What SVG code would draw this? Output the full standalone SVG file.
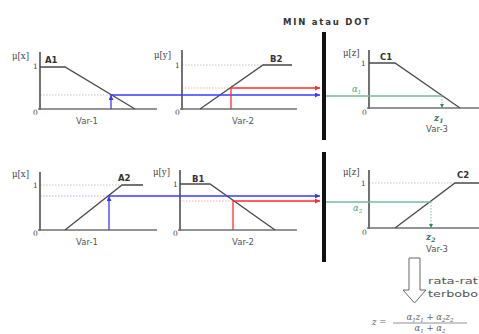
<svg xmlns="http://www.w3.org/2000/svg" width="479" height="334" viewBox="0 0 479 334">
<defs>
<style>
.ax{stroke:#5a5a5a;stroke-width:1.7;fill:none}
.xa{stroke:#707070;stroke-width:1.4;fill:none}
.mf{stroke:#4a4a4a;stroke-width:1.3;fill:none}
.dot{stroke:#b5b5b5;stroke-width:0.8;stroke-dasharray:1.5 1.5;fill:none}
.bdot{stroke:#9a9aff;stroke-width:0.8;stroke-dasharray:1.5 1.5;fill:none}
.rdot{stroke:#ff9a9a;stroke-width:0.8;stroke-dasharray:1.5 1.5;fill:none}
.gdot{stroke:#6aae88;stroke-width:0.8;stroke-dasharray:1.5 1.5;fill:none}
.blue{stroke:#3a3aff;stroke-width:1.3;fill:none}
.red{stroke:#ff2a2a;stroke-width:1.3;fill:none}
.grn{stroke:#7ab898;stroke-width:1.4;fill:none}
.bar{stroke:#111;stroke-width:4;fill:none}
.lbl{font-family:"DejaVu Sans",sans-serif;font-size:8.5px;fill:#555}
.mu{font-family:"DejaVu Serif",serif;font-size:8.5px;fill:#444}
.num{font-family:"DejaVu Serif",serif;font-size:7.5px;fill:#444}
.nm{font-family:"DejaVu Sans",sans-serif;font-weight:bold;font-size:8.5px;fill:#333}
.al{font-family:"DejaVu Serif",serif;font-style:italic;font-size:8.5px;fill:#5aa07a}
.zl{font-family:"DejaVu Serif",serif;font-style:italic;font-weight:bold;font-size:9px;fill:#2a6a5a}
.fm{font-family:"DejaVu Serif",serif;font-style:italic;font-size:8.5px;fill:#666}
</style>
<marker id="mb" viewBox="0 0 10 10" refX="10" refY="5" markerWidth="6" markerHeight="5" markerUnits="userSpaceOnUse" orient="auto"><path d="M0,0 L10,5 L0,10 z" fill="#3a3aff"/></marker>
<marker id="mr" viewBox="0 0 10 10" refX="10" refY="5" markerWidth="6" markerHeight="5" markerUnits="userSpaceOnUse" orient="auto"><path d="M0,0 L10,5 L0,10 z" fill="#ff2a2a"/></marker>
<marker id="mg" viewBox="0 0 10 10" refX="10" refY="5" markerWidth="5" markerHeight="4" markerUnits="userSpaceOnUse" orient="auto"><path d="M0,0 L10,5 L0,10 z" fill="#3a8a6a"/></marker>
</defs>
<rect width="479" height="334" fill="#fff"/>

<text x="326" y="25" class="nm" font-size="9.5px" text-anchor="middle" textLength="86" lengthAdjust="spacing">MIN atau DOT</text>

<!-- Top row -->
<g id="panel-a1">
<polyline class="dot" points="40,95 111,95"/>
<line class="ax" x1="40" y1="52" x2="40" y2="110"/>
<line class="xa" x1="38" y1="109" x2="157" y2="109"/>
<polyline class="mf" points="40,67 65,67 135,109"/>
<text x="12" y="59" class="mu">μ[x]</text>
<text x="33" y="69" class="num">1</text>
<text x="33" y="115" class="num">0</text>
<text x="45" y="63" class="nm">A1</text>
<text x="87" y="124" class="lbl" text-anchor="middle">Var-1</text>
</g>

<g id="panel-b2">
<polyline class="dot" points="182,65 292,65"/>
<polyline class="rdot" points="182,88 231,88"/>
<line class="ax" x1="182" y1="50" x2="182" y2="110"/>
<line class="xa" x1="180" y1="109" x2="297" y2="109"/>
<polyline class="mf" points="200,109 263,65 292,65"/>
<text x="154" y="58" class="mu">μ[y]</text>
<text x="175" y="68" class="num">1</text>
<text x="175" y="115" class="num">0</text>
<text x="270" y="62" class="nm">B2</text>
<text x="243" y="124" class="lbl" text-anchor="middle">Var-2</text>
</g>

<g id="panel-c1">
<line class="ax" x1="369" y1="50" x2="369" y2="109"/>
<line class="xa" x1="367" y1="108" x2="479" y2="108"/>
<polyline class="mf" points="369,63 395,63 460,108"/>
<text x="343" y="56" class="mu">μ[z]</text>
<text x="361" y="66" class="num">1</text>
<text x="362" y="115" class="num">0</text>
<text x="380" y="60" class="nm">C1</text>
<text x="352" y="92" class="al">α<tspan font-size="5.5px" dy="1.5">1</tspan></text>
<text x="434" y="121" class="zl">z<tspan font-size="6px" dy="1.5">1</tspan></text>
<text x="437" y="132" class="lbl" text-anchor="middle">Var-3</text>
</g>

<!-- Bottom row -->
<g id="panel-a2">
<polyline class="dot" points="40,185 143,185"/>
<polyline class="bdot" points="40,196 110,196"/>
<line class="ax" x1="40" y1="172" x2="40" y2="231"/>
<line class="xa" x1="38" y1="230" x2="157" y2="230"/>
<polyline class="mf" points="65,230 122,185 143,185"/>
<text x="12" y="177" class="mu">μ[x]</text>
<text x="33" y="188" class="num">1</text>
<text x="33" y="236" class="num">0</text>
<text x="118" y="181" class="nm">A2</text>
<text x="87" y="245" class="lbl" text-anchor="middle">Var-1</text>
</g>

<g id="panel-b1">
<polyline class="rdot" points="180,201 233,201"/>
<line class="ax" x1="180" y1="170" x2="180" y2="231"/>
<line class="xa" x1="178" y1="230" x2="297" y2="230"/>
<polyline class="mf" points="180,184 210,184 275,230"/>
<text x="153" y="175" class="mu">μ[y]</text>
<text x="173" y="187" class="num">1</text>
<text x="173" y="236" class="num">0</text>
<text x="192" y="182" class="nm">B1</text>
<text x="243" y="245" class="lbl" text-anchor="middle">Var-2</text>
</g>

<g id="panel-c2">
<polyline class="dot" points="369,183 455,183"/>
<line class="ax" x1="369" y1="170" x2="369" y2="229"/>
<line class="xa" x1="367" y1="228" x2="479" y2="228"/>
<polyline class="mf" points="395,228 455,183 479,183"/>
<text x="343" y="175" class="mu">μ[z]</text>
<text x="361" y="186" class="num">1</text>
<text x="362" y="235" class="num">0</text>
<text x="457" y="178" class="nm">C2</text>
<text x="353" y="211" class="al">α<tspan font-size="5.5px" dy="1.5">2</tspan></text>
<text x="426" y="240" class="zl">z<tspan font-size="6px" dy="1.5">2</tspan></text>
<text x="437" y="252" class="lbl" text-anchor="middle">Var-3</text>
</g>

<g id="min-bars">
<line class="bar" x1="324" y1="32" x2="324" y2="140"/>
<line class="bar" x1="324" y1="152" x2="324" y2="262"/>
</g>

<g id="connectors">
<line class="blue" x1="111" y1="109" x2="111" y2="95" marker-end="url(#mb)"/>
<line class="blue" x1="111" y1="95" x2="320" y2="95" marker-end="url(#mb)"/>
<line class="red" x1="231" y1="109" x2="231" y2="88"/>
<line class="red" x1="231" y1="88" x2="320" y2="88" marker-end="url(#mr)"/>
<line class="grn" x1="326" y1="96" x2="442" y2="96"/>
<line class="gdot" x1="442" y1="96" x2="442" y2="108" marker-end="url(#mg)"/>
<line class="blue" x1="109" y1="230" x2="109" y2="196" marker-end="url(#mb)"/>
<line class="blue" x1="109" y1="196" x2="320" y2="196" marker-end="url(#mb)"/>
<line class="red" x1="233" y1="230" x2="233" y2="201"/>
<line class="red" x1="233" y1="201" x2="320" y2="201" marker-end="url(#mr)"/>
<line class="grn" x1="326" y1="202" x2="431" y2="202"/>
<line class="gdot" x1="431" y1="202" x2="431" y2="228" marker-end="url(#mg)"/>
</g>

<g id="defuzz">
<path d="M409,258 H420 V290 H426 L414.5,303 L403,290 H409 Z" fill="#fff" stroke="#666" stroke-width="1"/>
<text x="428" y="284" class="lbl" font-size="10.5px" textLength="50" lengthAdjust="spacingAndGlyphs">rata-rat</text>
<text x="428" y="297" class="lbl" font-size="10.5px" textLength="50" lengthAdjust="spacingAndGlyphs">terbobo</text>
<text x="372" y="325" class="fm">z =</text>
<text x="430" y="320" class="fm" text-anchor="middle">α<tspan font-size="5.5px" dy="1.5">1</tspan><tspan dy="-1.5">z</tspan><tspan font-size="5.5px" dy="1.5">1</tspan><tspan dy="-1.5"> + α</tspan><tspan font-size="5.5px" dy="1.5">2</tspan><tspan dy="-1.5">z</tspan><tspan font-size="5.5px" dy="1.5">2</tspan></text>
<line x1="393" y1="323" x2="467" y2="323" stroke="#777" stroke-width="0.8"/>
<text x="430" y="331" class="fm" text-anchor="middle">α<tspan font-size="5.5px" dy="1.5">1</tspan><tspan dy="-1.5"> + α</tspan><tspan font-size="5.5px" dy="1.5">2</tspan></text>
</g>
</svg>
